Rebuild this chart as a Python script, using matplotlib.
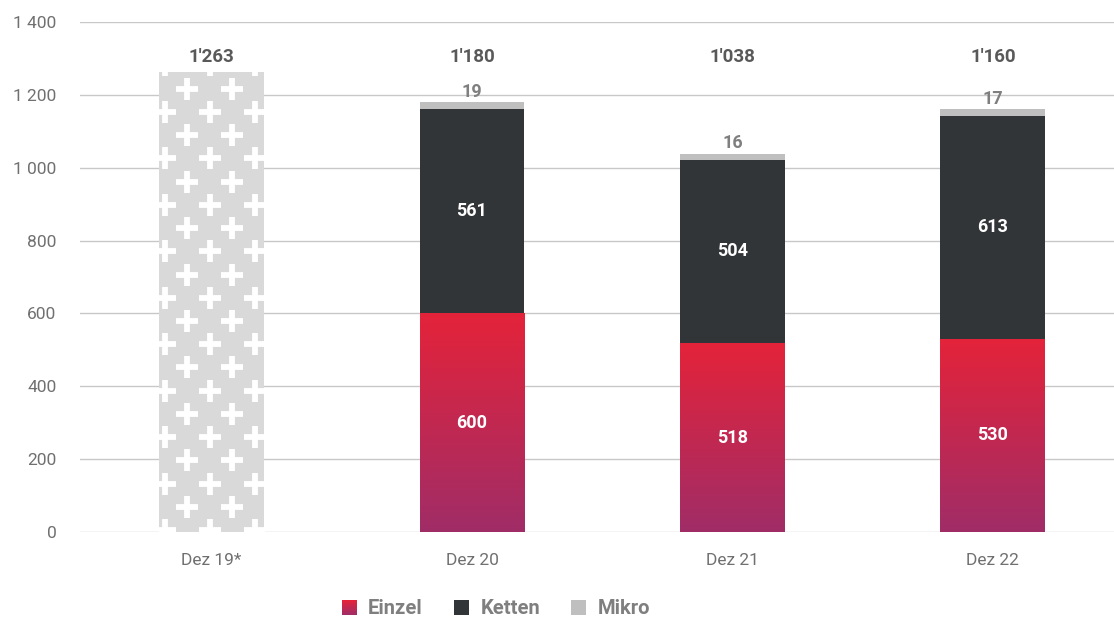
import numpy as np
import matplotlib
matplotlib.use("Agg")
from matplotlib import pyplot as plt
from matplotlib.colors import LinearSegmentedColormap
from matplotlib.legend_handler import HandlerBase
from matplotlib.patches import Patch, Rectangle

plt.rcParams["font.family"] = ["Roboto", "DejaVu Sans"]

categories = ["Dez 19*", "Dez 20", "Dez 21", "Dez 22"]
einzel = [None, 600, 518, 530]
ketten = [None, 561, 504, 613]
mikro = [None, 19, 16, 17]
totals = [1263, 1180, 1038, 1160]
y_ticks = [0, 200, 400, 600, 800, 1000, 1200, 1400]

RED_TOP = "#e4233a"
RED_BOTTOM = "#a02d67"
DARK = "#323537"
LIGHT = "#bfbfbf"
PATTERN_BG = "#d9d9d9"
LABEL_GREY = "#595959"

grad_cmap = LinearSegmentedColormap.from_list("einzel", [RED_BOTTOM, RED_TOP])


class GradientHandler(HandlerBase):
    def create_artists(self, legend, orig_handle, xdescent, ydescent, width, height, fontsize, trans):
        n = 24
        artists = []
        for i in range(n):
            r = Rectangle((-xdescent, -ydescent + height * i / n), width, height / n + 0.2,
                          facecolor=grad_cmap(i / (n - 1)), edgecolor="none", transform=trans)
            artists.append(r)
        return artists


fig = plt.figure(figsize=(11.14, 6.17), dpi=100)
ax = fig.add_axes([80 / 1114, 85 / 617, 1 - 80 / 1114, 510 / 617])

x = np.arange(len(categories))
width = 0.403
gradient = np.linspace(0, 1, 256).reshape(-1, 1)

for i, cat in enumerate(categories):
    if einzel[i] is None:
        # patterned bar (no breakdown available)
        bar = Rectangle((x[i] - width / 2, 0), width, totals[i], facecolor=PATTERN_BG,
                        edgecolor="none", zorder=2)
        ax.add_patch(bar)
        dx = 0.1727
        dy = 127.6
        pts_x, pts_y = [], []
        for row in range(-1, 13):
            for k in range(-3, 4):
                pts_x.append(x[i] - 0.006 + k * dx)
                pts_y.append(5 + row * dy)
                pts_x.append(x[i] + 0.08 + k * dx)
                pts_y.append(5 + row * dy + dy / 2)
        lines = ax.plot(pts_x, pts_y, linestyle="none", marker="+", markersize=16,
                        markeredgewidth=4.2, color="white", zorder=3)
        for ln in lines:
            ln.set_clip_path(bar)
    else:
        left = x[i] - width / 2
        ax.imshow(gradient, extent=(left, left + width, 0, einzel[i]), origin="lower",
                  cmap=grad_cmap, aspect="auto", zorder=2, interpolation="bilinear")
        ax.bar(x[i], ketten[i], width, bottom=einzel[i], color=DARK, zorder=2)
        ax.bar(x[i], mikro[i], width, bottom=einzel[i] + ketten[i], color=LIGHT, zorder=2)
        ax.text(x[i], einzel[i] / 2, f"{einzel[i]}", ha="center", va="center",
                color="white", fontsize=13, fontweight="bold", zorder=4)
        ax.text(x[i], einzel[i] + ketten[i] / 2, f"{ketten[i]}", ha="center", va="center",
                color="white", fontsize=13, fontweight="bold", zorder=4)
        ax.annotate(f"{mikro[i]}", (x[i], einzel[i] + ketten[i] + mikro[i]),
                    xytext=(0, 1), textcoords="offset points", ha="center", va="bottom",
                    color="#7f7f7f", fontsize=13, fontweight="bold")
    ax.text(x[i], 1305, f"{totals[i]:,}".replace(",", "'"), ha="center", va="center",
            color=LABEL_GREY, fontsize=13.5, fontweight="bold")

ax.set_xlim(-0.505, 3.465)
ax.set_ylim(0, 1400)
ax.set_yticks(y_ticks)
ax.set_yticklabels([f"{v:,}".replace(",", " ") for v in y_ticks])
ax.set_xticks(x)
ax.set_xticklabels(categories)
ax.tick_params(axis="both", length=0, labelsize=12.5, labelcolor="#707070")
ax.tick_params(axis="y", pad=17)
ax.tick_params(axis="x", pad=15)
ax.grid(True, axis="y", color="#c8c8c8", linewidth=1, zorder=0)
ax.set_axisbelow(True)
for spine in ax.spines.values():
    spine.set_visible(False)

handles = [Patch(facecolor=RED_TOP), Patch(facecolor=DARK), Patch(facecolor=LIGHT)]
leg = fig.legend(handles, ["Einzel", "Ketten", "Mikro"], loc="center",
                 bbox_to_anchor=(496 / 1114, 1 - 609 / 617), ncol=3, frameon=False,
                 handlelength=0.75, handleheight=0.75, handletextpad=0.55, columnspacing=1.55,
                 prop={"size": 14.5, "weight": "bold"},
                 handler_map={handles[0]: GradientHandler()})
for t in leg.get_texts():
    t.set_color("#7f7f7f")

fig.savefig("out.png", dpi=100)
